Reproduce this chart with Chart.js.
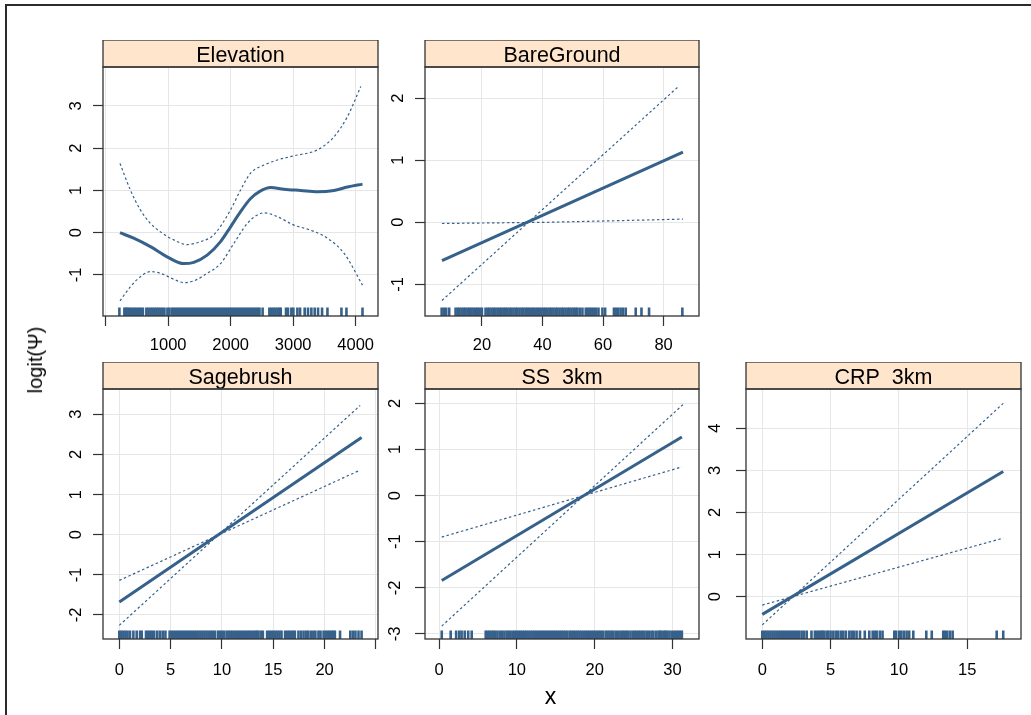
<!DOCTYPE html>
<html>
<head>
<meta charset="utf-8">
<title>logit(Ψ) effects</title>
<script src="https://cdn.jsdelivr.net/npm/chart.js@4.4.1/dist/chart.umd.min.js"></script>
<style>
  html, body { margin:0; padding:0; background:#ffffff; }
  body { width:1031px; height:715px; position:relative; overflow:hidden; font-family:"Liberation Sans", Arial, Helvetica, sans-serif; }
  #frame { position:absolute; left:5px; top:4px; width:1100px; height:800px; border-top:2px solid #2b2b2b; border-left:2px solid #2b2b2b; }
  canvas.panel { position:absolute; }
  #xlab { position:absolute; left:500px; width:101px; top:682px; text-align:center; font-size:23px; line-height:28px; color:#000; }
  #ylab { position:absolute; left:35px; top:360px; transform:translate(-50%,-50%) rotate(-90deg); font-size:20px; line-height:24px; white-space:nowrap; color:#000; }
</style>
</head>
<body>
<div id="frame"></div>
<canvas id="c1" class="panel"></canvas>
<canvas id="c2" class="panel"></canvas>
<canvas id="c3" class="panel"></canvas>
<canvas id="c4" class="panel"></canvas>
<canvas id="c5" class="panel"></canvas>
<div id="xlab">x</div>
<div id="ylab">logit(Ψ)</div>
<script>
// ---------------- DATA ----------------
const panelTitles = ['Elevation', 'BareGround', 'Sagebrush', 'SS  3km', 'CRP  3km'];

// Elevation
const elevFitX = [230, 449, 717, 984, 1250, 1411, 1625, 1839, 1999, 2159, 2320, 2480, 2640, 2854, 3121, 3389, 3655, 3870, 4110];
const elevFitY = [0.0, -0.13, -0.33, -0.57, -0.73, -0.70, -0.53, -0.21, 0.14, 0.50, 0.81, 0.99, 1.07, 1.03, 1.0, 0.97, 1.0, 1.08, 1.15];
const elevUpX = [230, 396, 556, 717, 877, 1090, 1305, 1518, 1731, 1999, 2159, 2320, 2533, 2747, 3014, 3389, 3655, 3870, 4083];
const elevUpY = [1.64, 1.01, 0.54, 0.22, 0.02, -0.17, -0.28, -0.21, -0.05, 0.54, 1.01, 1.41, 1.60, 1.72, 1.82, 1.96, 2.27, 2.75, 3.46];
const elevLoX = [230, 396, 556, 717, 877, 1090, 1250, 1411, 1625, 1839, 2053, 2266, 2427, 2533, 2747, 3014, 3281, 3549, 3816, 4110];
const elevLoY = [-1.61, -1.28, -1.04, -0.92, -0.96, -1.10, -1.18, -1.14, -0.96, -0.73, -0.25, 0.22, 0.42, 0.47, 0.38, 0.18, 0.06, -0.13, -0.49, -1.24];
const elevRug = [220, 300, 324, 348, 372, 404, 436, 468, 500, 532, 564, 596, 652, 684, 717, 749, 781, 813, 845, 877, 909, 941,
  989, 1021, 1061, 1092, 1125, 1156, 1190, 1221, 1252, 1285, 1318, 1349, 1380, 1413, 1446, 1477, 1508, 1541, 1574, 1605, 1636,
  1669, 1702, 1733, 1764, 1797, 1830, 1861, 1892, 1925, 1958, 1989, 2020, 2053, 2086, 2117, 2148, 2181, 2214, 2245, 2276, 2309,
  2342, 2373, 2404, 2437, 2462, 2512, 2620, 2651, 2684, 2716, 2749, 2780, 2802, 2886, 2918, 2972, 3004, 3068, 3111, 3185, 3238,
  3292, 3345, 3399, 3463, 3549, 3773, 3853, 4110];
const elevXTicks = [0, 1000, 2000, 3000, 4000];
const elevXLabels = ['', '1000', '2000', '3000', '4000'];
const elevYTicks = [-1, 0, 1, 2, 3];
const elevYLabels = ['-1', '0', '1', '2', '3'];

// BareGround
const bareFitX = [6.8, 86.4];
const bareFitY = [-0.62, 1.13];
const bareUpX = [6.8, 85.0];
const bareUpY = [-1.26, 2.19];
const bareLoX = [6.8, 42.6, 86.4];
const bareLoY = [-0.02, 0.0, 0.05];
const bareRug = [6.7, 7.5, 8.2, 9.2, 11.3, 12.0, 12.6, 13.3, 14.0, 14.6, 15.3, 16.0, 16.6, 17.3, 18.0, 18.6, 19.3, 20.0,
  21.2, 21.9, 22.5, 23.2, 23.9, 24.5, 25.2, 25.9, 26.5, 27.2, 27.8, 28.4, 29.1, 29.7, 30.4, 31.1, 31.7, 32.4, 33.1, 33.7,
  34.4, 35.0, 35.6, 36.3, 36.9, 37.6, 38.3, 38.9, 39.6, 40.3, 40.9, 41.6, 42.3, 42.9, 43.6, 44.3, 44.9, 45.6, 46.3, 46.9,
  47.6, 48.3, 48.9, 49.6, 50.3, 50.9, 51.5, 52.3, 53.2, 54.3, 55.0, 55.7, 56.3, 57.0, 57.7, 58.5, 59.8, 60.7, 63.6, 64.3,
  65.0, 65.8, 66.6, 67.5, 70.8, 72.7, 75.2, 86.2];
const bareXTicks = [20, 40, 60, 80];
const bareXLabels = ['20', '40', '60', '80'];
const bareYTicks = [-1, 0, 1, 2];
const bareYLabels = ['-1', '0', '1', '2'];

// Sagebrush
const sageFitX = [0, 23.6];
const sageFitY = [-1.68, 2.42];
const sageUpX = [0, 23.46];
const sageUpY = [-2.26, 3.22];
const sageLoX = [0, 23.3];
const sageLoY = [-1.14, 1.59];
const sageRug = [0.0, 0.2, 0.4, 0.6, 0.8, 1.04, 1.37, 1.69, 2.02, 2.18, 2.6, 2.8, 3.0, 3.2, 3.4, 3.7, 3.97, 4.23, 4.49,
  4.9, 5.1, 5.3, 5.5, 5.7, 5.9, 6.1, 6.3, 6.5, 6.7, 6.9, 7.1, 7.3, 7.5, 7.7, 7.9, 8.1, 8.3, 8.5, 8.7, 8.9, 9.1, 9.3,
  9.6, 9.8, 10.0, 10.2, 10.45, 10.65, 10.85, 11.05, 11.25, 11.45, 11.65, 11.85, 12.05, 12.25, 12.45, 12.65, 12.85, 13.05,
  13.25, 13.4, 13.55, 13.78, 13.98, 14.4, 14.6, 14.8, 15.0, 15.2, 15.4, 15.6, 15.8, 16.15, 16.35, 16.55, 16.75, 16.95,
  17.1, 17.45, 17.7, 17.95, 18.2, 18.4, 18.65, 18.9, 19.1, 19.4, 19.6, 19.9, 20.1, 20.3, 20.5, 20.7, 20.85, 21.0, 21.5,
  22.5, 22.75, 23.0, 23.3, 23.6];
const sageXTicks = [0, 5, 10, 15, 20, 25];
const sageXLabels = ['0', '5', '10', '15', '20', ''];
const sageYTicks = [-2, -1, 0, 1, 2, 3];
const sageYLabels = ['-2', '-1', '0', '1', '2', '3'];

// SS 3km
const ssFitX = [0.35, 31.2];
const ssFitY = [-1.84, 1.27];
const ssUpX = [0.35, 31.4];
const ssUpY = [-2.83, 1.98];
const ssLoX = [0.35, 31.2];
const ssLoY = [-0.90, 0.62];
const ssRug = [0.35, 1.5, 2.2, 2.6, 2.9, 3.3, 3.75, 4.2, 6.0, 6.25, 6.5, 6.75, 7.0, 7.2, 7.5, 7.8, 8.1, 8.4, 8.7, 8.95,
  9.2, 9.5, 9.75, 10.0, 10.25, 10.5, 10.75, 11.0, 11.25, 11.5, 11.75, 12.0, 12.25, 12.5, 12.75, 13.0, 13.25, 13.5, 13.75,
  14.0, 14.25, 14.5, 14.75, 15.0, 15.25, 15.5, 15.75, 16.0, 16.25, 16.5, 16.8, 17.05, 17.3, 17.55, 17.8, 18.05, 18.3,
  18.55, 18.8, 19.05, 19.3, 19.55, 19.8, 20.05, 20.3, 20.55, 20.8, 21.05, 21.4, 21.65, 21.9, 22.15, 22.4, 22.7, 23.0,
  23.3, 23.55, 23.8, 24.05, 24.3, 24.6, 24.9, 25.15, 25.4, 25.65, 25.9, 26.15, 26.4, 26.7, 27.0, 27.3, 27.55, 27.9,
  28.2, 28.4, 28.6, 28.9, 29.1, 29.3, 29.6, 29.9, 30.2, 30.45, 30.7, 30.95, 31.2];
const ssXTicks = [0, 10, 20, 30];
const ssXLabels = ['0', '10', '20', '30'];
const ssYTicks = [-3, -2, -1, 0, 1, 2];
const ssYLabels = ['-3', '-2', '-1', '0', '1', '2'];

// CRP 3km
const crpFitX = [0, 17.63];
const crpFitY = [-0.42, 2.97];
const crpUpX = [0, 17.63];
const crpUpY = [-0.67, 4.59];
const crpLoX = [0, 17.63];
const crpLoY = [-0.20, 1.39];
const crpRug = [0.0, 0.15, 0.3, 0.45, 0.6, 0.75, 0.9, 1.05, 1.2, 1.35, 1.5, 1.65, 1.8, 1.95, 2.1, 2.25, 2.4, 2.55, 2.7,
  2.88, 3.05, 3.25, 3.6, 3.85, 4.0, 4.15, 4.3, 4.4, 4.51, 4.7, 4.83, 5.0, 5.2, 5.39, 5.56, 5.76, 5.93, 6.12, 6.37, 6.54,
  6.7, 6.9, 7.15, 7.5, 7.83, 8.08, 8.25, 8.37, 8.6, 8.8, 9.66, 9.78, 10.0, 10.17, 10.36, 10.56, 10.75, 11.05, 12.0, 12.4,
  13.24, 13.36, 13.53, 13.73, 13.93, 17.15, 17.63];
const crpXTicks = [0, 5, 10, 15];
const crpXLabels = ['0', '5', '10', '15'];
const crpYTicks = [0, 1, 2, 3, 4];
const crpYLabels = ['0', '1', '2', '3', '4'];

// axis ranges
const elevXRange = [-42, 4358], elevYRange = [-1.97, 3.92];
const bareXRange = [1.2, 91.7], bareYRange = [-1.51, 2.5];
const sageXRange = [-1.59, 25.2], sageYRange = [-2.6, 3.63];
const ssXRange = [-1.8, 33.4], ssYRange = [-3.11, 2.31];
const crpXRange = [-1.19, 18.93], crpYRange = [-1.005, 4.93];

// ---------------- STYLE / LAYOUT ----------------
const FONT = '"Liberation Sans", Arial, Helvetica, sans-serif';
const LINE = '#36618b';
const STRIP_H = 27, YAXIS_W = 60, XAXIS_H = 50, PAD_R = 20;

const zip = (xs, ys) => xs.map((x, i) => ({ x: x, y: ys[i] }));

const latticePlugin = {
  id: 'lattice',
  beforeDraw(chart) {
    const { ctx, chartArea: a } = chart;
    ctx.save();
    ctx.fillStyle = '#ffe5cc';
    ctx.fillRect(a.left, a.top - STRIP_H, a.right - a.left, STRIP_H);
    ctx.restore();
  },
  afterDraw(chart) {
    const { ctx, chartArea: a } = chart;
    ctx.save();
    ctx.strokeStyle = '#333333';
    ctx.lineWidth = 1.3;
    ctx.strokeRect(a.left, a.top - STRIP_H, a.right - a.left, STRIP_H);
    ctx.strokeRect(a.left, a.top, a.right - a.left, a.bottom - a.top);
    ctx.restore();
  }
};

function makePanel(id, box, title, xr, yr, xTicks, xLabels, yTicks, yLabels, fit, up, lo, rug, smooth, yPad, xPad) {
  const cv = document.getElementById(id);
  const W = box.r - box.l + YAXIS_W + PAD_R;
  const H = STRIP_H + (box.b - box.t) + XAXIS_H;
  cv.width = W; cv.height = H;
  cv.style.width = W + 'px'; cv.style.height = H + 'px';
  cv.style.left = (box.l - YAXIS_W) + 'px';
  cv.style.top = (box.t - STRIP_H) + 'px';

  const lineBase = { showLine: true, pointRadius: 0, borderColor: LINE, fill: false,
    cubicInterpolationMode: smooth ? 'monotone' : 'default', tension: 0 };
  const tickFont = { family: FONT, size: 16.5 };
  const gridOpts = { color: '#e6e6e6', lineWidth: 1, tickColor: '#333333', tickLength: 10, tickWidth: 1.2 };

  new Chart(cv, {
    type: 'scatter',
    data: {
      datasets: [
        Object.assign({}, lineBase, { data: zip(up[0], up[1]), borderWidth: 1.2, borderDash: [2.5, 2.5] }),
        Object.assign({}, lineBase, { data: zip(lo[0], lo[1]), borderWidth: 1.2, borderDash: [2.5, 2.5] }),
        Object.assign({}, lineBase, { data: zip(fit[0], fit[1]), borderWidth: 3 }),
        { data: rug.map(v => ({ x: v, y: yr[0] })), showLine: false, pointStyle: 'line', pointRotation: 90,
          pointRadius: 8.5, pointBorderWidth: 2.6, borderWidth: 2.6, pointBorderColor: LINE, pointBackgroundColor: LINE,
          borderColor: LINE, clip: 0 }
      ]
    },
    options: {
      responsive: false, animation: false, events: [],
      layout: { padding: { left: 0, right: PAD_R, top: 0, bottom: 0 } },
      plugins: {
        legend: { display: false }, tooltip: { enabled: false },
        title: { display: true, text: title, fullSize: false, color: '#000',
          font: { family: FONT, size: 21.5, weight: 'normal', lineHeight: 1 }, padding: { top: 5.5, bottom: 0 } }
      },
      scales: {
        x: {
          type: 'linear', min: xr[0], max: xr[1],
          afterBuildTicks: s => { s.ticks = xTicks.map(v => ({ value: v })); },
          afterFit: s => { s.height = XAXIS_H; },
          ticks: { autoSkip: false, maxRotation: 0, minRotation: 0, padding: xPad, color: '#000', font: tickFont,
            callback: (v, i) => xLabels[i] },
          grid: gridOpts, border: { display: false }
        },
        y: {
          type: 'linear', min: yr[0], max: yr[1],
          afterBuildTicks: s => { s.ticks = yTicks.map(v => ({ value: v })); },
          afterFit: s => { s.width = YAXIS_W; },
          ticks: { autoSkip: false, minRotation: 90, maxRotation: 90, crossAlign: 'center', padding: yPad,
            color: '#000', font: tickFont, callback: (v, i) => yLabels[i] },
          grid: gridOpts, border: { display: false }
        }
      }
    },
    plugins: [latticePlugin]
  });
}

makePanel('c1', { l: 103, r: 378, t: 67, b: 316 }, panelTitles[0], elevXRange, elevYRange, elevXTicks, elevXLabels,
  elevYTicks, elevYLabels, [elevFitX, elevFitY], [elevUpX, elevUpY], [elevLoX, elevLoY], elevRug, true, 9, 9.6);
makePanel('c2', { l: 425, r: 699, t: 67, b: 316 }, panelTitles[1], bareXRange, bareYRange, bareXTicks, bareXLabels,
  bareYTicks, bareYLabels, [bareFitX, bareFitY], [bareUpX, bareUpY], [bareLoX, bareLoY], bareRug, false, 9, 9.6);
makePanel('c3', { l: 103, r: 378, t: 389, b: 639 }, panelTitles[2], sageXRange, sageYRange, sageXTicks, sageXLabels,
  sageYTicks, sageYLabels, [sageFitX, sageFitY], [sageUpX, sageUpY], [sageLoX, sageLoY], sageRug, false, 9.7, 11.9);
makePanel('c4', { l: 425, r: 699, t: 389, b: 639 }, panelTitles[3], ssXRange, ssYRange, ssXTicks, ssXLabels,
  ssYTicks, ssYLabels, [ssFitX, ssFitY], [ssUpX, ssUpY], [ssLoX, ssLoY], ssRug, false, 12.7, 11.9);
makePanel('c5', { l: 746, r: 1021, t: 389, b: 639 }, panelTitles[4], crpXRange, crpYRange, crpXTicks, crpXLabels,
  crpYTicks, crpYLabels, [crpFitX, crpFitY], [crpUpX, crpUpY], [crpLoX, crpLoY], crpRug, false, 16.4, 11.9);
</script>
</body>
</html>
